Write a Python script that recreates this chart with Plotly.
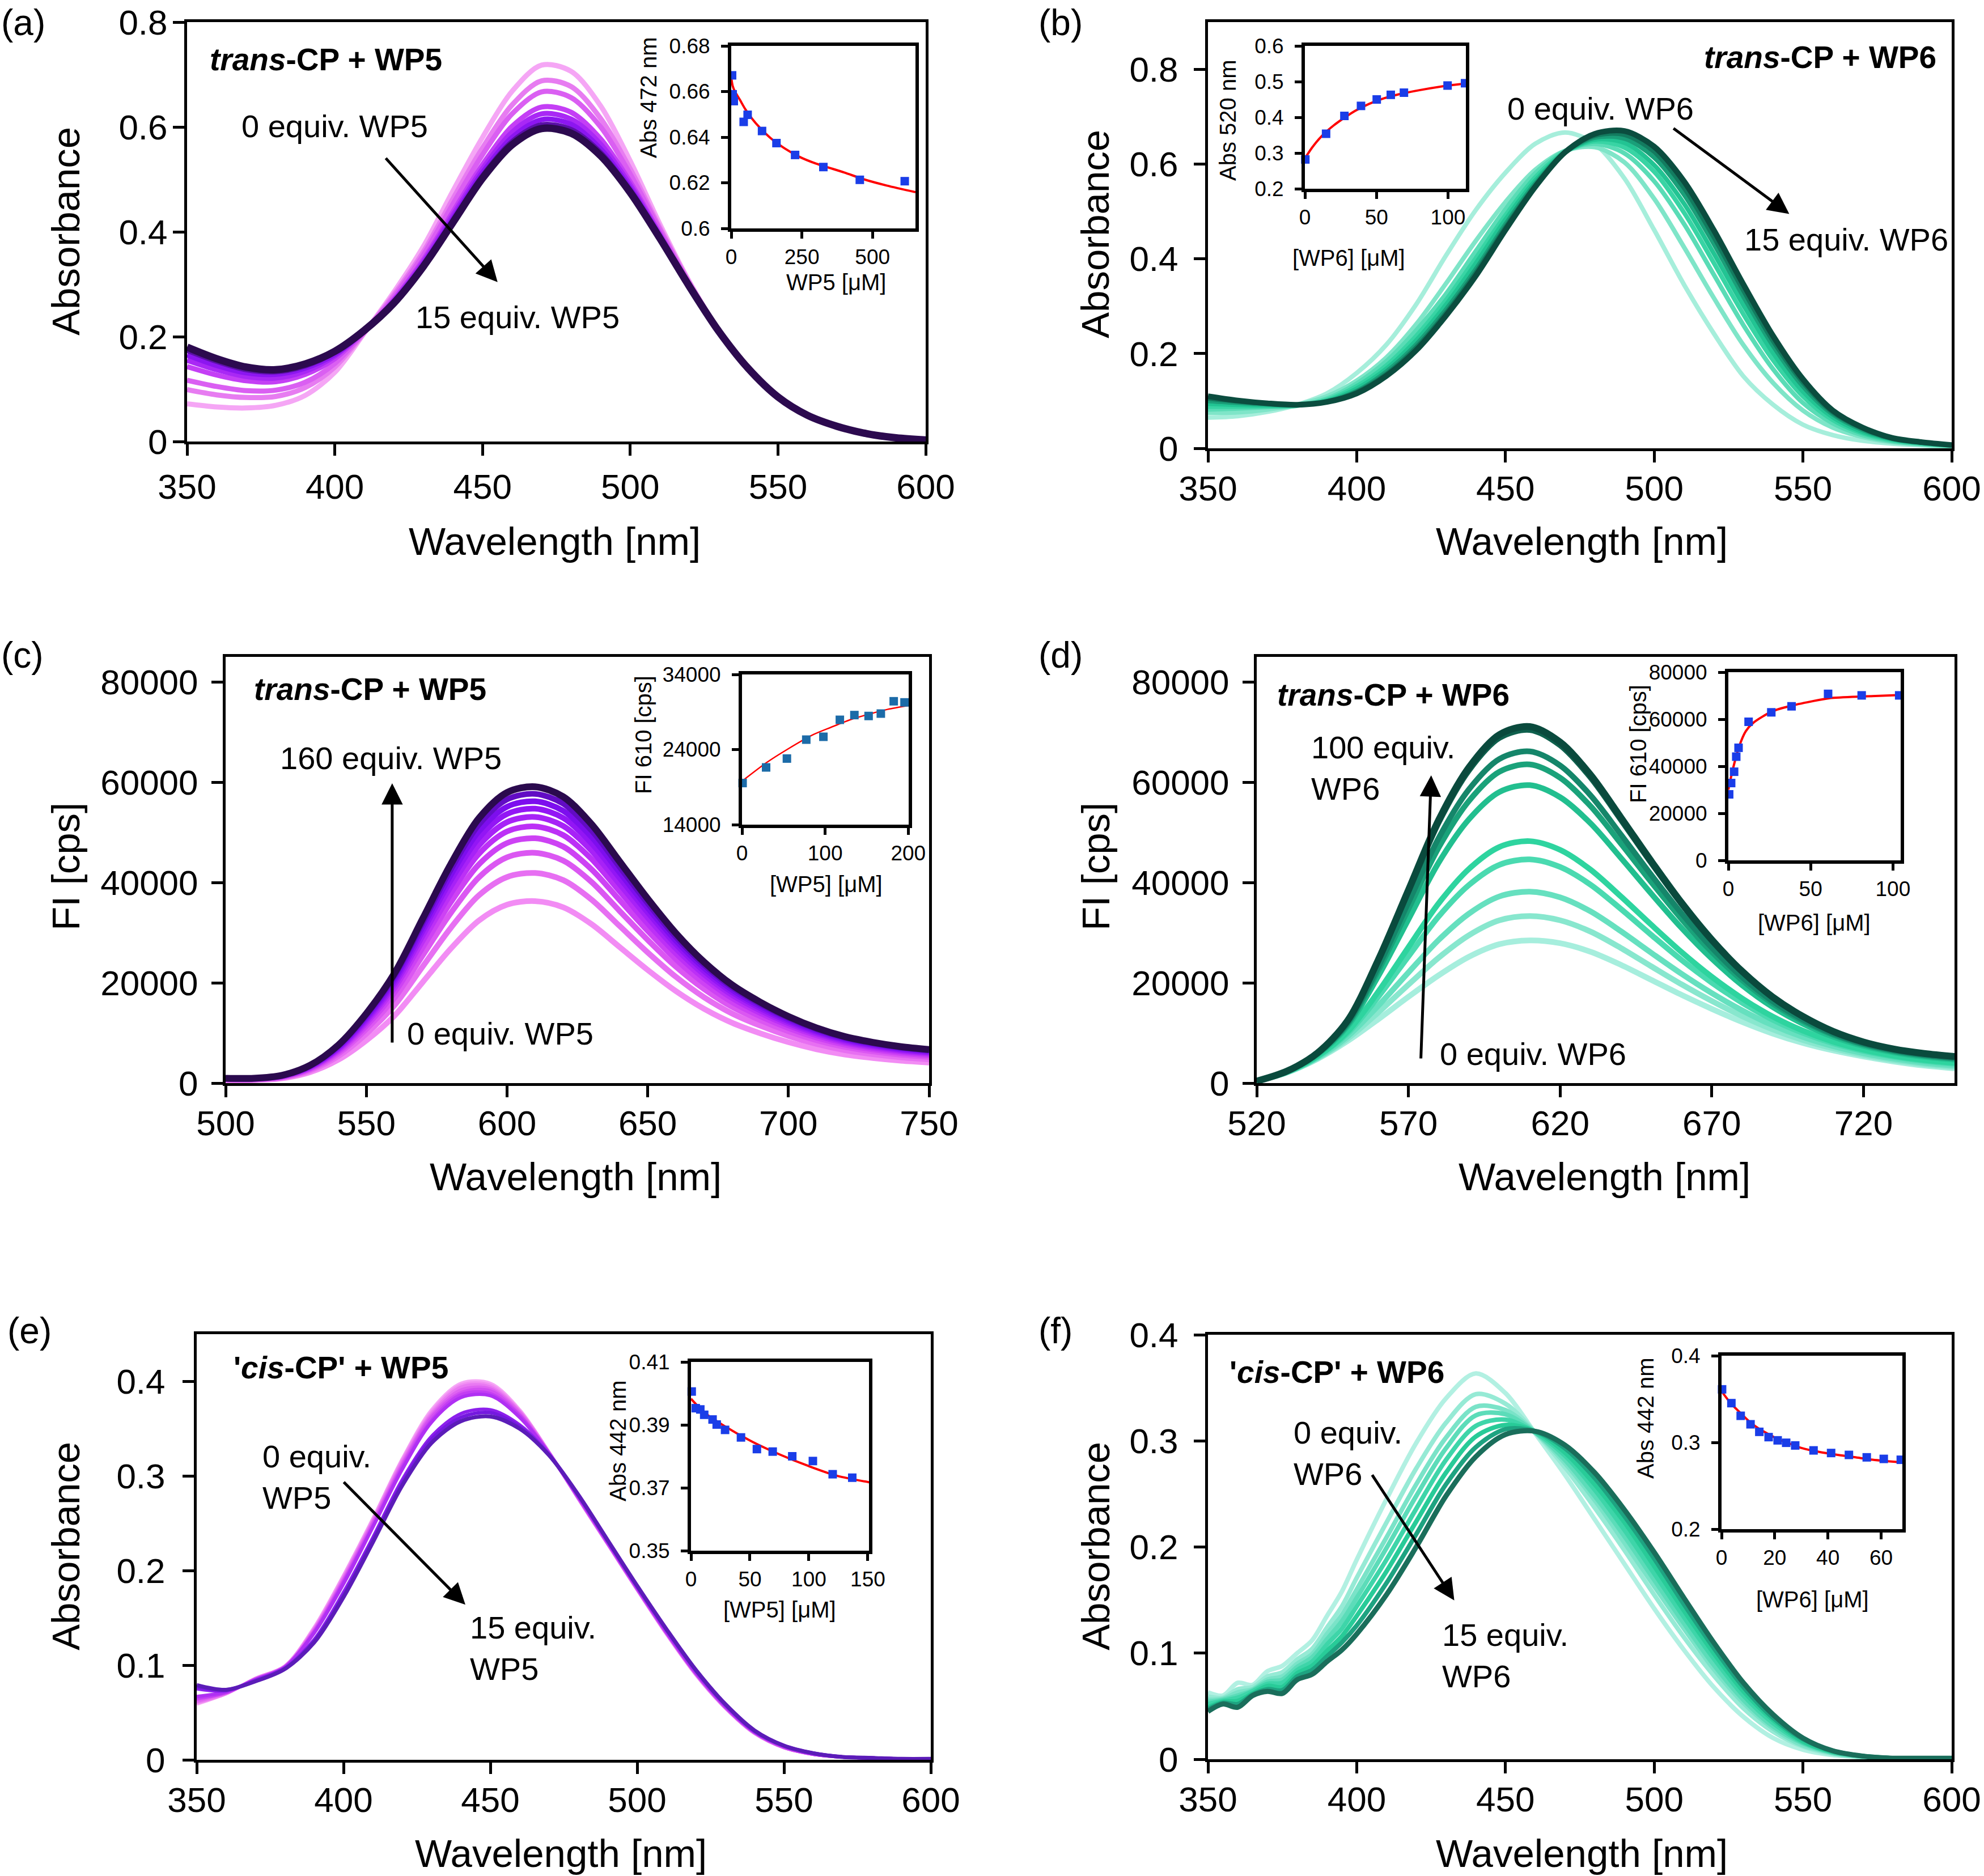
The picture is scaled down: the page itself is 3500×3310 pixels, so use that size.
import plotly.graph_objects as go

FONT = "Liberation Sans, Arial, Helvetica, sans-serif"
W, H = 3500, 3310

# ---------------- Panel (a): trans-CP + WP5, absorbance ----------------
A_WL = [350, 360, 370, 380, 390, 400, 410, 420, 430, 440, 450, 460, 470, 480, 490, 500, 510, 520, 530, 540, 550, 560, 570, 580, 590, 600]
A_EQ0 = [0.072, 0.066, 0.064, 0.069, 0.088, 0.132, 0.207, 0.285, 0.372, 0.478, 0.580, 0.668, 0.718, 0.706, 0.640, 0.535, 0.415, 0.305, 0.212, 0.140, 0.086, 0.050, 0.029, 0.015, 0.007, 0.003]
A_S1 = [0.099, 0.089, 0.084, 0.086, 0.103, 0.142, 0.208, 0.280, 0.362, 0.463, 0.560, 0.642, 0.688, 0.677, 0.616, 0.520, 0.408, 0.303, 0.212, 0.140, 0.086, 0.050, 0.029, 0.015, 0.007, 0.003]
A_S2 = [0.117, 0.105, 0.097, 0.098, 0.113, 0.149, 0.209, 0.276, 0.356, 0.453, 0.547, 0.625, 0.667, 0.656, 0.600, 0.510, 0.404, 0.301, 0.211, 0.140, 0.086, 0.050, 0.029, 0.015, 0.007, 0.003]
A_S3 = [0.143, 0.127, 0.116, 0.114, 0.128, 0.158, 0.210, 0.271, 0.347, 0.438, 0.528, 0.601, 0.638, 0.628, 0.577, 0.495, 0.397, 0.299, 0.211, 0.139, 0.085, 0.050, 0.029, 0.015, 0.007, 0.003]
A_S4 = [0.155, 0.137, 0.124, 0.121, 0.134, 0.163, 0.211, 0.269, 0.343, 0.432, 0.520, 0.590, 0.625, 0.615, 0.567, 0.489, 0.394, 0.298, 0.210, 0.139, 0.085, 0.050, 0.029, 0.015, 0.007, 0.003]
A_S5 = [0.165, 0.145, 0.131, 0.128, 0.140, 0.166, 0.211, 0.267, 0.339, 0.426, 0.513, 0.580, 0.614, 0.605, 0.558, 0.483, 0.392, 0.297, 0.210, 0.139, 0.085, 0.050, 0.029, 0.015, 0.007, 0.003]
A_S6 = [0.174, 0.153, 0.137, 0.133, 0.144, 0.170, 0.212, 0.265, 0.336, 0.422, 0.507, 0.572, 0.604, 0.595, 0.551, 0.479, 0.390, 0.297, 0.210, 0.139, 0.085, 0.050, 0.029, 0.015, 0.007, 0.003]
A_EQ15 = [0.180, 0.158, 0.142, 0.137, 0.148, 0.172, 0.212, 0.264, 0.334, 0.418, 0.502, 0.566, 0.597, 0.588, 0.545, 0.475, 0.388, 0.296, 0.210, 0.139, 0.085, 0.050, 0.029, 0.015, 0.007, 0.003]

# inset (a)
IA_X = [3, 5, 9, 44, 58, 109, 160, 226, 326, 455, 614]
IA_Y = [0.6671, 0.6588, 0.6558, 0.6467, 0.6498, 0.6427, 0.6374, 0.6322, 0.6269, 0.6213, 0.6207]
IA_FIT_X = [0, 5, 13, 30, 50, 73, 100, 140, 190, 241, 300, 341, 400, 475, 550, 652]
IA_FIT_Y = [0.6662, 0.6625, 0.6600, 0.6565, 0.6522, 0.6482, 0.6443, 0.6395, 0.6350, 0.6314, 0.6284, 0.6268, 0.6245, 0.6213, 0.6188, 0.6159]

# ---------------- Panel (b): trans-CP + WP6, absorbance ----------------
B_WL = [350, 360, 370, 380, 390, 400, 410, 420, 430, 440, 450, 460, 470, 480, 490, 500, 510, 520, 530, 540, 550, 560, 570, 580, 590, 600]
B_EQ0 = [0.065, 0.068, 0.077, 0.092, 0.116, 0.159, 0.219, 0.304, 0.407, 0.503, 0.582, 0.643, 0.667, 0.643, 0.570, 0.461, 0.346, 0.243, 0.152, 0.092, 0.050, 0.028, 0.016, 0.010, 0.006, 0.002]
B_S1 = [0.075, 0.076, 0.082, 0.092, 0.110, 0.143, 0.192, 0.262, 0.348, 0.438, 0.520, 0.588, 0.628, 0.636, 0.604, 0.527, 0.425, 0.318, 0.218, 0.138, 0.080, 0.044, 0.024, 0.013, 0.008, 0.004]
B_S2 = [0.082, 0.084, 0.087, 0.090, 0.105, 0.137, 0.184, 0.249, 0.326, 0.416, 0.505, 0.581, 0.628, 0.643, 0.623, 0.564, 0.474, 0.367, 0.260, 0.167, 0.096, 0.053, 0.028, 0.015, 0.009, 0.005]
B_S3 = [0.088, 0.088, 0.089, 0.091, 0.102, 0.131, 0.175, 0.237, 0.313, 0.401, 0.492, 0.572, 0.626, 0.648, 0.635, 0.584, 0.498, 0.392, 0.283, 0.186, 0.110, 0.060, 0.032, 0.017, 0.010, 0.006]
B_S4 = [0.094, 0.092, 0.091, 0.091, 0.100, 0.126, 0.168, 0.228, 0.303, 0.390, 0.483, 0.565, 0.625, 0.652, 0.645, 0.598, 0.517, 0.412, 0.302, 0.201, 0.120, 0.066, 0.035, 0.019, 0.011, 0.006]
B_S5 = [0.100, 0.096, 0.093, 0.091, 0.099, 0.121, 0.162, 0.219, 0.293, 0.378, 0.473, 0.559, 0.625, 0.656, 0.654, 0.614, 0.536, 0.432, 0.320, 0.216, 0.131, 0.072, 0.039, 0.020, 0.012, 0.007]
B_S6 = [0.105, 0.099, 0.094, 0.092, 0.098, 0.119, 0.157, 0.213, 0.286, 0.371, 0.467, 0.555, 0.625, 0.660, 0.662, 0.626, 0.550, 0.446, 0.333, 0.226, 0.139, 0.076, 0.042, 0.021, 0.013, 0.007]
B_EQ15 = [0.110, 0.101, 0.095, 0.092, 0.098, 0.116, 0.153, 0.207, 0.280, 0.364, 0.461, 0.552, 0.625, 0.664, 0.670, 0.637, 0.564, 0.461, 0.346, 0.237, 0.146, 0.080, 0.044, 0.022, 0.013, 0.007]

# inset (b)
IB_X = [0.3, 14.8, 27.6, 39.2, 50.2, 60.0, 69.2, 99.7, 111.9]
IB_Y = [0.282, 0.354, 0.404, 0.432, 0.450, 0.463, 0.469, 0.489, 0.4955]
IB_FIT_X = [0, 5, 10, 15, 20, 28, 35, 45, 55, 65, 80, 100, 112.5]
IB_FIT_Y = [0.285, 0.315, 0.340, 0.360, 0.377, 0.400, 0.418, 0.438, 0.453, 0.464, 0.476, 0.489, 0.495]

# ---------------- Panel (c): trans-CP + WP5, fluorescence ----------------
C_WL = [500, 510, 520, 530, 540, 550, 560, 570, 580, 590, 600, 610, 620, 630, 640, 650, 660, 670, 680, 690, 700, 710, 720, 730, 740, 750]
C_EQ0 = [600, 600, 950, 2180, 4640, 8510, 13430, 20100, 26800, 32420, 35580, 36290, 35060, 31710, 27140, 22570, 18360, 14830, 12020, 9920, 8160, 6750, 5700, 4990, 4460, 4110]
C_S1 = [690, 690, 1100, 2520, 5360, 9830, 15510, 23210, 30940, 37440, 41090, 41900, 40480, 36620, 31340, 26060, 21200, 17130, 13880, 11450, 9420, 7800, 6580, 5760, 5150, 4750]
C_S2 = [750, 750, 1200, 2760, 5870, 10770, 17000, 25440, 33910, 41030, 45030, 45920, 44370, 40130, 34340, 28560, 23230, 18770, 15210, 12550, 10330, 8550, 7210, 6320, 5650, 5210]
C_S3 = [800, 800, 1280, 2930, 6240, 11450, 18070, 27040, 36050, 43610, 47870, 48820, 47160, 42660, 36510, 30360, 24700, 19960, 16170, 13340, 10980, 9090, 7670, 6720, 6000, 5530]
C_S4 = [840, 840, 1340, 3070, 6550, 12000, 18950, 28350, 37790, 45720, 50180, 51180, 49450, 44730, 38280, 31830, 25890, 20920, 16960, 13990, 11510, 9530, 8040, 7040, 6300, 5800]
C_S5 = [870, 870, 1390, 3190, 6790, 12450, 19650, 29400, 39190, 47410, 52040, 53070, 51280, 46380, 39690, 33010, 26850, 21700, 17580, 14500, 11930, 9880, 8330, 7300, 6530, 6020]
C_S6 = [900, 900, 1440, 3290, 7000, 12830, 20260, 30320, 40410, 48890, 53660, 54730, 52870, 47830, 40930, 34040, 27690, 22370, 18130, 14950, 12310, 10190, 8590, 7530, 6730, 6200]
C_S7 = [920, 920, 1470, 3380, 7190, 13180, 20810, 31140, 41500, 50210, 55110, 56200, 54300, 49120, 42030, 34960, 28430, 22980, 18620, 15360, 12640, 10460, 8830, 7730, 6910, 6370]
C_S8 = [950, 950, 1510, 3460, 7380, 13530, 21360, 31950, 42590, 51530, 56560, 57680, 55730, 50410, 43140, 35880, 29180, 23580, 19110, 15760, 12970, 10740, 9060, 7930, 7100, 6540]
C_EQ160 = [970, 970, 1550, 3550, 7560, 13860, 21880, 32740, 43640, 52800, 57950, 59100, 57100, 51650, 44200, 36760, 29900, 24160, 19580, 16150, 13290, 11000, 9280, 8130, 7270, 6700]

# inset (c)
IC_X = [0.7, 29, 54, 77.3, 97.9, 117.7, 135.2, 152.3, 167, 182.5, 195.5]
IC_Y = [19540, 21620, 22800, 25320, 25700, 27960, 28590, 28470, 28790, 30430, 30280]
IC_FIT_X = [0, 30, 55, 85, 107, 130, 153, 175, 200]
IC_FIT_Y = [19790, 22300, 24060, 25950, 26960, 27960, 28720, 29350, 29850]

# ---------------- Panel (d): trans-CP + WP6, fluorescence ----------------
D_WL = [520, 530, 540, 550, 560, 570, 580, 590, 600, 610, 620, 630, 640, 650, 660, 670, 680, 690, 700, 710, 720, 730, 740, 750]
D_EQ0 = [400, 2100, 4800, 8400, 12700, 17200, 21500, 25200, 27700, 28460, 27900, 26200, 23600, 20600, 17600, 14800, 12200, 9900, 8000, 6500, 5300, 4300, 3500, 2950]
D_S1 = [400, 2130, 4940, 8870, 14050, 19630, 25030, 29510, 32470, 33320, 32470, 30220, 26950, 23300, 19700, 16370, 13350, 10730, 8600, 6930, 5630, 4590, 3770, 3220]
D_S2 = [400, 2170, 5070, 9340, 15390, 22060, 28570, 33820, 37230, 38180, 37040, 34250, 30300, 26000, 21800, 17950, 14500, 11560, 9210, 7370, 5960, 4870, 4050, 3490]
D_S3 = [400, 2210, 5260, 9950, 17170, 25270, 33250, 39530, 43540, 44620, 43100, 39580, 34740, 29580, 24570, 20030, 16030, 12670, 10010, 7940, 6400, 5250, 4410, 3840]
D_S4 = [400, 2240, 5360, 10300, 18180, 27080, 35880, 42740, 47100, 48250, 46510, 42580, 37240, 31600, 26140, 21200, 16890, 13290, 10460, 8260, 6650, 5460, 4610, 4040]
D_S5 = [400, 2320, 5670, 11380, 21270, 32660, 44010, 52640, 58050, 59420, 57010, 51830, 44940, 37810, 30960, 24820, 19530, 15200, 11850, 9260, 7410, 6120, 5240, 4660]
D_S6 = [400, 2350, 5790, 11770, 22410, 34730, 47010, 56310, 62100, 63550, 60900, 55250, 47800, 40110, 32740, 26160, 20510, 15910, 12360, 9630, 7690, 6360, 5480, 4880]
D_S7 = [400, 2370, 5860, 12020, 23130, 36030, 48900, 58620, 64650, 66150, 63350, 57410, 49590, 41550, 33870, 27000, 21130, 16350, 12690, 9860, 7860, 6510, 5620, 5030]
D_S8 = [400, 2400, 5980, 12430, 24310, 38160, 52000, 62400, 68830, 70420, 67360, 60940, 52530, 43920, 35710, 28380, 22140, 17080, 13220, 10240, 8150, 6760, 5860, 5260]
D_EQ100 = [400, 2400, 6000, 12500, 24500, 38500, 52500, 63000, 69500, 71100, 68000, 61500, 53000, 44300, 36000, 28600, 22300, 17200, 13300, 10300, 8200, 6800, 5900, 5300]

# inset (d)
ID_X = [0.5, 1.7, 3.5, 4.8, 6.2, 12.3, 26.1, 38.4, 60.6, 81.0, 103.8]
ID_Y = [28060, 32870, 37680, 44090, 47860, 58920, 62930, 65490, 70780, 70140, 70140]
ID_FIT_X = [0, 2.5, 6.6, 10.6, 15.2, 26.7, 38.2, 50, 61.2, 84.2, 104.7]
ID_FIT_Y = [30060, 38080, 48500, 54910, 58520, 63330, 65730, 67500, 68940, 69740, 70300]

# ---------------- Panel (e): 'cis-CP' + WP5, absorbance ----------------
E_WL = [350, 360, 370, 380, 390, 400, 410, 420, 430, 440, 450, 460, 470, 480, 490, 500, 510, 520, 530, 540, 550, 560, 570, 580, 590, 600]
E_EQ0 = [0.059, 0.070, 0.086, 0.099, 0.140, 0.195, 0.255, 0.318, 0.370, 0.398, 0.398, 0.370, 0.325, 0.276, 0.228, 0.180, 0.133, 0.090, 0.055, 0.028, 0.013, 0.006, 0.003, 0.002, 0.001, 0.001]
E_S1 = [0.060, 0.070, 0.086, 0.099, 0.139, 0.194, 0.254, 0.317, 0.368, 0.396, 0.396, 0.369, 0.325, 0.276, 0.228, 0.180, 0.133, 0.090, 0.055, 0.028, 0.013, 0.006, 0.003, 0.002, 0.001, 0.001]
E_S2 = [0.061, 0.070, 0.086, 0.099, 0.138, 0.192, 0.252, 0.315, 0.366, 0.394, 0.394, 0.368, 0.325, 0.276, 0.228, 0.180, 0.134, 0.091, 0.055, 0.028, 0.013, 0.006, 0.003, 0.002, 0.001, 0.001]
E_S3 = [0.062, 0.071, 0.085, 0.098, 0.137, 0.191, 0.251, 0.313, 0.364, 0.391, 0.392, 0.367, 0.324, 0.277, 0.229, 0.181, 0.134, 0.091, 0.056, 0.029, 0.013, 0.006, 0.003, 0.002, 0.001, 0.001]
E_S4 = [0.064, 0.071, 0.085, 0.098, 0.136, 0.189, 0.249, 0.311, 0.362, 0.388, 0.390, 0.365, 0.324, 0.277, 0.229, 0.181, 0.134, 0.091, 0.056, 0.029, 0.013, 0.006, 0.003, 0.002, 0.001, 0.001]
E_S5 = [0.065, 0.071, 0.085, 0.098, 0.135, 0.188, 0.247, 0.309, 0.359, 0.386, 0.387, 0.364, 0.324, 0.277, 0.229, 0.181, 0.135, 0.092, 0.056, 0.029, 0.014, 0.006, 0.003, 0.002, 0.001, 0.001]
E_S6 = [0.067, 0.072, 0.085, 0.098, 0.134, 0.186, 0.246, 0.307, 0.357, 0.383, 0.385, 0.362, 0.324, 0.278, 0.230, 0.182, 0.135, 0.092, 0.057, 0.029, 0.014, 0.006, 0.003, 0.002, 0.001, 0.001]
E_S7 = [0.075, 0.073, 0.084, 0.097, 0.127, 0.177, 0.235, 0.296, 0.342, 0.366, 0.370, 0.354, 0.323, 0.279, 0.231, 0.183, 0.137, 0.094, 0.058, 0.030, 0.015, 0.007, 0.003, 0.002, 0.001, 0.001]
E_S8 = [0.077, 0.074, 0.083, 0.096, 0.126, 0.174, 0.233, 0.293, 0.339, 0.362, 0.367, 0.352, 0.322, 0.280, 0.232, 0.184, 0.138, 0.095, 0.059, 0.031, 0.015, 0.007, 0.003, 0.002, 0.001, 0.001]
E_EQ15 = [0.079, 0.074, 0.083, 0.096, 0.124, 0.172, 0.230, 0.290, 0.335, 0.358, 0.363, 0.350, 0.322, 0.280, 0.232, 0.184, 0.138, 0.095, 0.059, 0.031, 0.015, 0.007, 0.003, 0.002, 0.001, 0.001]

# inset (e)
IE_X = [0.6, 4.0, 7.9, 11.2, 18.3, 21.8, 28.9, 42.4, 55.9, 69.3, 85.9, 103.4, 120.2, 136.8]
IE_Y = [0.4006, 0.3953, 0.3949, 0.3932, 0.3917, 0.3901, 0.3884, 0.3860, 0.3823, 0.3815, 0.3800, 0.3785, 0.3743, 0.3732]
IE_FIT_X = [0, 11.6, 27.6, 51.7, 75.8, 99.8, 123.9, 152]
IE_FIT_Y = [0.3983, 0.3938, 0.3898, 0.3847, 0.3805, 0.3769, 0.3738, 0.3717]

# ---------------- Panel (f): 'cis-CP' + WP6, absorbance ----------------
F_WL = [350, 355, 360, 365, 370, 375, 380, 385, 390, 395, 400, 410, 420, 430, 440, 450, 460, 470, 480, 490, 500, 510, 520, 530, 540, 550, 560, 570, 580, 590, 600]
F_EQ0 = [0.063, 0.060, 0.072, 0.070, 0.083, 0.088, 0.100, 0.112, 0.135, 0.158, 0.188, 0.245, 0.298, 0.340, 0.3635, 0.345, 0.307, 0.268, 0.226, 0.184, 0.142, 0.103, 0.068, 0.040, 0.020, 0.009, 0.004, 0.002, 0.001, 0.001, 0.001]
F_S1 = [0.059, 0.058, 0.066, 0.068, 0.078, 0.082, 0.094, 0.104, 0.124, 0.144, 0.171, 0.223, 0.274, 0.317, 0.344, 0.335, 0.308, 0.275, 0.237, 0.197, 0.155, 0.115, 0.079, 0.048, 0.026, 0.012, 0.005, 0.002, 0.001, 0.001, 0.001]
F_S2 = [0.056, 0.057, 0.063, 0.066, 0.075, 0.078, 0.090, 0.099, 0.118, 0.136, 0.160, 0.209, 0.259, 0.303, 0.332, 0.329, 0.308, 0.279, 0.244, 0.204, 0.163, 0.123, 0.085, 0.053, 0.029, 0.013, 0.006, 0.002, 0.001, 0.001, 0.001]
F_S3 = [0.054, 0.056, 0.060, 0.065, 0.073, 0.075, 0.087, 0.096, 0.113, 0.130, 0.152, 0.199, 0.248, 0.293, 0.324, 0.325, 0.308, 0.282, 0.248, 0.210, 0.169, 0.128, 0.089, 0.056, 0.031, 0.015, 0.006, 0.003, 0.001, 0.001, 0.001]
F_S4 = [0.052, 0.055, 0.058, 0.064, 0.071, 0.072, 0.084, 0.092, 0.108, 0.123, 0.144, 0.188, 0.236, 0.282, 0.314, 0.320, 0.308, 0.286, 0.254, 0.216, 0.175, 0.134, 0.095, 0.060, 0.034, 0.016, 0.007, 0.003, 0.001, 0.001, 0.001]
F_S5 = [0.049, 0.054, 0.055, 0.062, 0.069, 0.068, 0.081, 0.088, 0.102, 0.116, 0.135, 0.177, 0.224, 0.270, 0.304, 0.315, 0.309, 0.289, 0.259, 0.223, 0.182, 0.140, 0.100, 0.064, 0.037, 0.017, 0.007, 0.003, 0.001, 0.001, 0.001]
F_S6 = [0.047, 0.053, 0.052, 0.061, 0.066, 0.065, 0.078, 0.084, 0.097, 0.110, 0.126, 0.166, 0.212, 0.259, 0.294, 0.311, 0.309, 0.293, 0.265, 0.229, 0.189, 0.146, 0.105, 0.068, 0.039, 0.019, 0.008, 0.003, 0.001, 0.001, 0.001]
F_EQ15 = [0.045, 0.052, 0.049, 0.060, 0.064, 0.062, 0.075, 0.080, 0.092, 0.103, 0.118, 0.155, 0.200, 0.248, 0.285, 0.306, 0.309, 0.296, 0.270, 0.235, 0.195, 0.152, 0.110, 0.072, 0.042, 0.020, 0.008, 0.003, 0.001, 0.001, 0.001]

# inset (f)
IF_X = [0.2, 3.7, 7.2, 10.9, 14.2, 17.7, 21.1, 24.3, 27.7, 34.6, 41.2, 47.9, 54.6, 61.0, 67.4]
IF_Y = [0.3612, 0.3453, 0.3307, 0.3209, 0.3122, 0.3061, 0.3024, 0.2996, 0.2965, 0.2908, 0.2878, 0.2856, 0.2828, 0.2810, 0.2800]
IF_FIT_X = [0, 3.5, 7.1, 10.5, 14.2, 18, 21.3, 25, 28.4, 35, 42.6, 50, 56.8, 62, 68.1]
IF_FIT_Y = [0.3590, 0.3450, 0.3340, 0.3240, 0.3155, 0.3090, 0.3035, 0.2995, 0.2952, 0.2900, 0.2861, 0.2830, 0.2800, 0.2785, 0.2770]

# ---------------- styles ----------------
A_COLORS = ["#F5A6F5", "#E77CF1", "#DA5FF2", "#C43FF5", "#A928F5", "#8C16F0", "#5B10A8", "#2C0A4F"]
B_COLORS = ["#A6EEDB", "#7FE5C8", "#5ADCB6", "#38D4A4", "#22C493", "#1A9F79", "#137B5F", "#0B4D3F"]
C_COLORS = ["#F28CF4", "#E76FF2", "#DB57F2", "#CD42F4", "#BC30F6", "#A722F7", "#9316F5", "#7D0EEE", "#620CC4", "#2B0A4E"]
D_COLORS = ["#A6EEDD", "#88E7CE", "#66E0BF", "#4ADAB0", "#2ED49F", "#22BF8F", "#1AA27A", "#15866A", "#0F604D", "#0A4A3D"]
E_COLORS = ["#F6A8F6", "#F190F3", "#E97AF2", "#DF64F1", "#D350F2", "#C33EF3", "#B030F3", "#8C20EC", "#7519DF", "#5B1CB8"]
F_COLORS = ["#B2F0E2", "#96EAD5", "#7AE3C8", "#5CDCB9", "#3ED5A9", "#28CB98", "#1EA381", "#1A6E5B"]


def px(x):
    return x / W


def py(y):
    return 1 - y / H


fig = go.Figure()


def ax_name(kind, n):
    return kind if n == 1 else f"{kind}{n}"


def add_spectra(n, wl, curves, colors, width, last_width):
    for i, (c, col) in enumerate(zip(curves, colors)):
        w = last_width if i == len(curves) - 1 else width
        fig.add_trace(go.Scatter(
            x=wl, y=c, mode="lines",
            line=dict(color=col, width=w, shape="spline", smoothing=0.9),
            xaxis=ax_name("x", n), yaxis=ax_name("y", n),
            showlegend=False, hoverinfo="skip"))


def add_inset(n, xs, ys, fx, fy, mcolor, lwidth):
    fig.add_trace(go.Scatter(
        x=fx, y=fy, mode="lines",
        line=dict(color="#FF0000", width=lwidth, shape="spline", smoothing=0.8),
        xaxis=ax_name("x", n), yaxis=ax_name("y", n),
        showlegend=False, hoverinfo="skip"))
    fig.add_trace(go.Scatter(
        x=xs, y=ys, mode="markers",
        marker=dict(symbol="square", size=15, color=mcolor, line=dict(width=0)),
        cliponaxis=False,
        xaxis=ax_name("x", n), yaxis=ax_name("y", n),
        showlegend=False, hoverinfo="skip"))


layout_axes = {}


def main_axes(n, xpx, ypx, xr, yr, xtick0, ydtick, yfmt=None, xstand=-7, ystand=16):
    layout_axes[f"xaxis{'' if n == 1 else n}"] = dict(
        domain=[px(xpx[0]), px(xpx[1])], range=xr, anchor=ax_name("y", n),
        showline=True, mirror=True, linecolor="black", linewidth=5,
        ticks="outside", ticklen=20, tickwidth=5, tickcolor="black",
        tick0=xtick0, dtick=50, showgrid=False, zeroline=False, automargin=False,
        ticklabeloverflow="allow",
        tickfont=dict(size=62, color="black", family=FONT),
        ticklabelstandoff=xstand)
    layout_axes[f"yaxis{'' if n == 1 else n}"] = dict(
        domain=[py(ypx[1]), py(ypx[0])], range=yr, anchor=ax_name("x", n),
        showline=True, mirror=True, linecolor="black", linewidth=5,
        ticks="outside", ticklen=20, tickwidth=5, tickcolor="black",
        tick0=0, dtick=ydtick, tickformat=yfmt, showgrid=False, zeroline=False,
        automargin=False, ticklabeloverflow="allow",
        tickfont=dict(size=62, color="black", family=FONT),
        ticklabelstandoff=ystand)


def inset_axes(n, xpx, ypx, xr, yr, xdtick, ytick0, ydtick, yfmt=None):
    layout_axes[f"xaxis{n}"] = dict(
        domain=[px(xpx[0]), px(xpx[1])], range=xr, anchor=f"y{n}",
        showline=True, mirror=True, linecolor="black", linewidth=6,
        ticks="outside", ticklen=12, tickwidth=5, tickcolor="black",
        tick0=0, dtick=xdtick, showgrid=False, zeroline=False, automargin=False,
        ticklabeloverflow="allow",
        tickfont=dict(size=37, color="black", family=FONT),
        ticklabelstandoff=1)
    layout_axes[f"yaxis{n}"] = dict(
        domain=[py(ypx[1]), py(ypx[0])], range=yr, anchor=f"x{n}",
        showline=True, mirror=True, linecolor="black", linewidth=6,
        ticks="outside", ticklen=12, tickwidth=5, tickcolor="black",
        tick0=ytick0, dtick=ydtick, tickformat=yfmt, showgrid=False, zeroline=False,
        automargin=False, ticklabeloverflow="allow",
        tickfont=dict(size=37, color="black", family=FONT),
        ticklabelstandoff=12)


# main panels
main_axes(1, (330, 1633), (39, 779), [350, 600], [0, 0.8], 350, 0.2, xstand=2, ystand=-3)
main_axes(2, (2131, 3443), (39, 791), [350, 600], [0, 0.9], 350, 0.2, ystand=15)
main_axes(3, (398, 1639), (1159, 1911), [500, 750], [0, 85000], 500, 20000, "d", ystand=11)
main_axes(4, (2217, 3448), (1159, 1911), [520, 750], [0, 85000], 520, 20000, "d", ystand=11)
main_axes(5, (347, 1642), (2354, 3105), [350, 600], [0, 0.45], 350, 0.1, ystand=18)
main_axes(6, (2131, 3443), (2355, 3104), [350, 600], [0, 0.4], 350, 0.1, ystand=15)

# insets
inset_axes(7, (1290, 1615), (81, 403), [0, 652], [0.6, 0.68], 250, 0.6, 0.02)
inset_axes(8, (2302, 2586), (81, 333), [0, 112.5], [0.2, 0.6], 50, 0.2, 0.1)
inset_axes(9, (1309, 1603), (1190, 1455), [0, 200.5], [14000, 34000], 100, 14000, 10000, "d")
inset_axes(10, (3049, 3353), (1186, 1518), [0, 104.7], [0, 80000], 50, 0, 20000, "d")
inset_axes(11, (1219, 1533), (2403, 2736), [0, 151], [0.35, 0.41], 50, 0.35, 0.02)
inset_axes(12, (3037, 3356), (2392, 2698), [0, 68], [0.2, 0.4], 20, 0.2, 0.1)

add_spectra(1, A_WL, [A_EQ0, A_S1, A_S2, A_S3, A_S4, A_S5, A_S6, A_EQ15], A_COLORS, 9, 13)
add_spectra(2, B_WL, [B_EQ0, B_S1, B_S2, B_S3, B_S4, B_S5, B_S6, B_EQ15], B_COLORS, 8, 10)
add_spectra(3, C_WL, [C_EQ0, C_S1, C_S2, C_S3, C_S4, C_S5, C_S6, C_S7, C_S8, C_EQ160], C_COLORS, 10, 12)
add_spectra(4, D_WL, [D_EQ0, D_S1, D_S2, D_S3, D_S4, D_S5, D_S6, D_S7, D_S8, D_EQ100], D_COLORS, 10, 12)
add_spectra(5, E_WL, [E_EQ0, E_S1, E_S2, E_S3, E_S4, E_S5, E_S6, E_S7, E_S8, E_EQ15], E_COLORS, 6, 7)
add_spectra(6, F_WL, [F_EQ0, F_S1, F_S2, F_S3, F_S4, F_S5, F_S6, F_EQ15], F_COLORS, 8, 9)

add_inset(7, IA_X, IA_Y, IA_FIT_X, IA_FIT_Y, "#1A3DE8", 4)
add_inset(8, IB_X, IB_Y, IB_FIT_X, IB_FIT_Y, "#1A3DE8", 4)
add_inset(9, IC_X, IC_Y, IC_FIT_X, IC_FIT_Y, "#1C6BA8", 2.5)
add_inset(10, ID_X, ID_Y, ID_FIT_X, ID_FIT_Y, "#1A3DE8", 4)
add_inset(11, IE_X, IE_Y, IE_FIT_X, IE_FIT_Y, "#1A3DE8", 4)
add_inset(12, IF_X, IF_Y, IF_FIT_X, IF_FIT_Y, "#1A3DE8", 4)

ann = []


def ptext(text, x, y, size, xanchor="center", angle=0, yanchor="middle"):
    ann.append(dict(text=text, x=px(x), y=py(y), xref="paper", yref="paper",
                    xanchor=xanchor, yanchor=yanchor, showarrow=False, textangle=angle,
                    font=dict(size=size, color="black", family=FONT)))


def dtext(n, text, x, y, xanchor="center", size=56, align="left"):
    ann.append(dict(text=text, x=x, y=y, xref=ax_name("x", n), yref=ax_name("y", n),
                    xanchor=xanchor, yanchor="middle", showarrow=False, align=align,
                    font=dict(size=size, color="black", family=FONT)))


def arrow(n, tail, head):
    ann.append(dict(text="", x=head[0], y=head[1], ax=tail[0], ay=tail[1],
                    xref=ax_name("x", n), yref=ax_name("y", n),
                    axref=ax_name("x", n), ayref=ax_name("y", n),
                    showarrow=True, arrowhead=2, arrowsize=1.5, arrowwidth=5,
                    arrowcolor="black", standoff=0, startstandoff=0))


# panel labels
for lab, x, y in [("(a)", 0, 40), ("(b)", 1830, 40), ("(c)", 0, 1156),
                  ("(d)", 1830, 1156), ("(e)", 11, 2348), ("(f)", 1830, 2348)]:
    ptext(lab, x, y, 64, xanchor="left")

# main axis titles
for t, x, y in [("Absorbance", 116, 408), ("Absorbance", 1933, 413),
                ("FI [cps]", 116, 1529), ("FI [cps]", 1933, 1529),
                ("Absorbance", 116, 2728), ("Absorbance", 1933, 2728)]:
    ptext(t, x, y, 69, angle=-90)
for x, y in [(978, 955), (2790, 955), (1016, 2076), (2830, 2076), (989, 3270), (2790, 3270)]:
    ptext("Wavelength [nm]", x, y, 69)

# panel titles
ptext("<b><i>trans</i>-CP + WP5</b>", 368, 105, 55, xanchor="left")
ptext("<b><i>trans</i>-CP + WP6</b>", 3418, 101, 55, xanchor="right")
ptext("<b><i>trans</i>-CP + WP5</b>", 446, 1216, 55, xanchor="left")
ptext("<b><i>trans</i>-CP + WP6</b>", 2251, 1226, 55, xanchor="left")
ptext("<b>'<i>cis</i>-CP' + WP5</b>", 410, 2413, 55, xanchor="left")
ptext("<b>'<i>cis</i>-CP' + WP6</b>", 2167, 2421, 55, xanchor="left")

# inset axis titles
for t, x, y in [("Abs 472 nm", 1144, 173), ("Abs 520 nm", 2166, 213),
                ("FI 610 [cps]", 1135, 1297), ("FI 610 [cps]", 2890, 1313),
                ("Abs 442 nm", 1090, 2543), ("Abs 442 nm", 2903, 2503)]:
    ptext(t, x, y, 40, angle=-90)
for t, x, y in [("WP5 [μM]", 1475, 498), ("[WP6] [μM]", 2379, 455),
                ("[WP5] [μM]", 1457, 1560), ("[WP6] [μM]", 3200, 1628),
                ("[WP5] [μM]", 1375, 2840), ("[WP6] [μM]", 3197, 2822)]:
    ptext(t, x, y, 40)

# annotations with arrows, panel (a)
dtext(1, "0 equiv. WP5", 399.9, 0.602)
dtext(1, "15 equiv. WP5", 461.9, 0.237)
arrow(1, (417, 0.542), (455.1, 0.304))
# panel (b)
dtext(2, "0 equiv. WP6", 482, 0.717)
dtext(2, "15 equiv. WP6", 564.5, 0.441)
arrow(2, (506.2, 0.677), (545.4, 0.495))
# panel (c)
dtext(3, "160 equiv. WP5", 558.8, 64820)
dtext(3, "0 equiv. WP5", 564, 9890, xanchor="left")
arrow(3, (559.2, 7910), (559.2, 59790))
# panel (d)
dtext(4, "100 equiv.<br>WP6", 537.5, 62845, xanchor="left")
dtext(4, "0 equiv. WP6", 579.9, 5878, xanchor="left")
arrow(4, (574.1, 4747), (577.5, 61375))
# panel (e)
dtext(5, "0 equiv.<br>WP5", 372, 0.2988, xanchor="left")
dtext(5, "15 equiv.<br>WP5", 442.7, 0.1179, xanchor="left")
arrow(5, (399.8, 0.2945), (441.5, 0.164))
# panel (f)
dtext(6, "0 equiv.<br>WP6", 378.4, 0.2883, xanchor="left")
dtext(6, "15 equiv.<br>WP6", 428.3, 0.0976, xanchor="left")
arrow(6, (405, 0.2687), (432.8, 0.1497))

fig.update_layout(
    width=W, height=H, autosize=False,
    margin=dict(l=0, r=0, t=0, b=0, pad=0, autoexpand=False),
    paper_bgcolor="white", plot_bgcolor="white",
    font=dict(family=FONT, color="black"),
    showlegend=False,
    annotations=ann,
    **layout_axes)

fig.write_html("out.html", config={"displayModeBar": False},
               post_script="document.body.style.margin='0px';document.body.style.padding='0px';")
